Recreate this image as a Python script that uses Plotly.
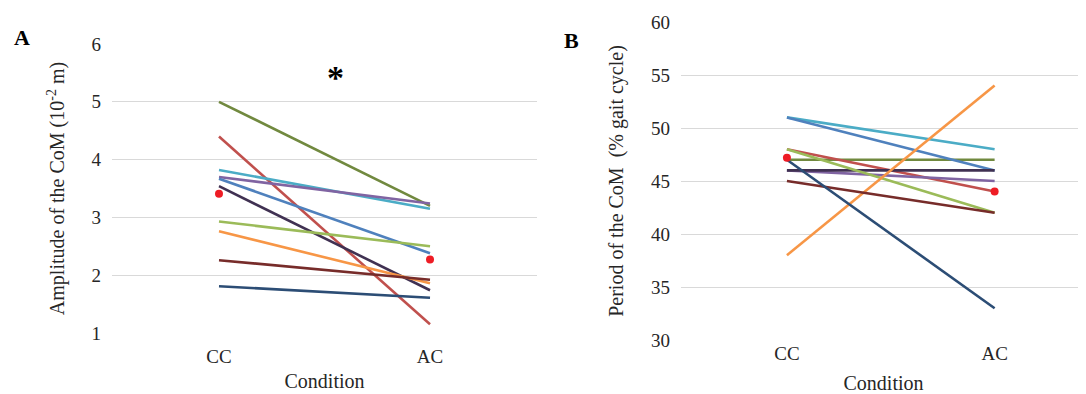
import plotly.graph_objects as go

conditions = ["CC", "AC"]
colors = ["#71893F", "#C0504D", "#4BACC6", "#8064A2", "#4F81BD",
          "#403152", "#9BBB59", "#F79646", "#772C2A", "#2C4D75"]

# Panel A: amplitude of the CoM (10^-2 m), per subject [CC, AC]
amp_cc = [5.00, 4.40, 3.82, 3.70, 3.67, 3.54, 2.93, 2.76, 2.26, 1.81]
amp_ac = [3.20, 1.15, 3.15, 3.24, 2.38, 1.74, 2.50, 1.86, 1.92, 1.61]
amp_mean = [3.41, 2.27]

# Panel B: period of the CoM (% gait cycle), per subject [CC, AC]
per_cc = [47.0, 48.0, 51.0, 46.0, 51.0, 46.0, 48.0, 38.0, 45.0, 47.0]
per_ac = [47.0, 44.0, 48.0, 45.0, 46.0, 46.0, 42.0, 54.0, 42.0, 33.0]
per_mean = [47.2, 44.0]

xpos = [0, 1]
fig = go.Figure()

for i in range(len(amp_cc)):
    fig.add_trace(go.Scatter(x=xpos, y=[amp_cc[i], amp_ac[i]], mode="lines",
                             line=dict(color=colors[i], width=2.6),
                             showlegend=False, xaxis="x", yaxis="y"))
fig.add_trace(go.Scatter(x=xpos, y=amp_mean, mode="markers",
                         marker=dict(color="#EE1C25", size=8),
                         showlegend=False, xaxis="x", yaxis="y"))

for i in range(len(per_cc)):
    fig.add_trace(go.Scatter(x=xpos, y=[per_cc[i], per_ac[i]], mode="lines",
                             line=dict(color=colors[i], width=2.6),
                             showlegend=False, xaxis="x2", yaxis="y2"))
fig.add_trace(go.Scatter(x=xpos, y=per_mean, mode="markers",
                         marker=dict(color="#EE1C25", size=8),
                         showlegend=False, xaxis="x2", yaxis="y2"))

OFF = 8  # page body margin
W, H = 1086 - OFF, 394 - OFF


def px(v):
    return (v - OFF) / W


def py(v):
    return 1 - (v - OFF) / H


serif = "Liberation Serif, Times New Roman, serif"
tickfont = dict(family=serif, size=19, color="#262626")
titlefont = dict(family=serif, size=20, color="#262626")

fig.update_layout(
    width=W, height=H,
    margin=dict(l=0, r=0, t=0, b=0),
    paper_bgcolor="white", plot_bgcolor="white",
    xaxis=dict(domain=[px(112), px(537)], range=[-0.507, 1.507],
               tickvals=xpos, ticktext=conditions, tickfont=tickfont,
               showgrid=False, zeroline=False, showline=False,
               ticks="", ticklabelstandoff=10,
               title=dict(text="Condition", font=titlefont, standoff=7),
               anchor="y", automargin=False),
    yaxis=dict(domain=[py(333), py(44)], range=[1, 6],
               tickvals=[1, 2, 3, 4, 5, 6], tickfont=tickfont,
               showgrid=True, gridcolor="#D9D9D9", gridwidth=1,
               zeroline=False, showline=False, ticks="", ticklabelstandoff=10,
               title=dict(text="Amplitude of the CoM (10<sup>-2</sup> m)",
                          font=titlefont, standoff=21),
               anchor="x", automargin=False),
    xaxis2=dict(domain=[px(681), 1.0], range=[-0.51, 1.44],
                tickvals=xpos, ticktext=conditions, tickfont=tickfont,
                showgrid=False, zeroline=False, showline=False, ticks="",
                title=dict(text="Condition", font=titlefont, standoff=21),
                anchor="y2", automargin=False),
    yaxis2=dict(domain=[py(340), py(22)], range=[30, 60],
                tickvals=[30, 35, 40, 45, 50, 55, 60], tickfont=tickfont,
                showgrid=True, gridcolor="#D9D9D9", gridwidth=1,
                zeroline=False, showline=False, ticks="", ticklabelstandoff=10,
                title=dict(text="Period of the CoM  (% gait cycle)",
                           font=titlefont, standoff=22),
                anchor="x2", automargin=False),
    annotations=[
        dict(text="<b>A</b>", x=px(22), y=py(37), xref="paper", yref="paper",
             xanchor="center", yanchor="middle",
             showarrow=False, font=dict(family=serif, size=22, color="black")),
        dict(text="<b>B</b>", x=px(571), y=py(41), xref="paper", yref="paper",
             xanchor="center", yanchor="middle",
             showarrow=False, font=dict(family=serif, size=22, color="black")),
        dict(text="<b>*</b>", x=0.55, y=5.42, xref="x", yref="y",
             xanchor="center", yanchor="middle",
             showarrow=False, font=dict(family=serif, size=34, color="black")),
    ],
)

fig.write_html("out.html")
